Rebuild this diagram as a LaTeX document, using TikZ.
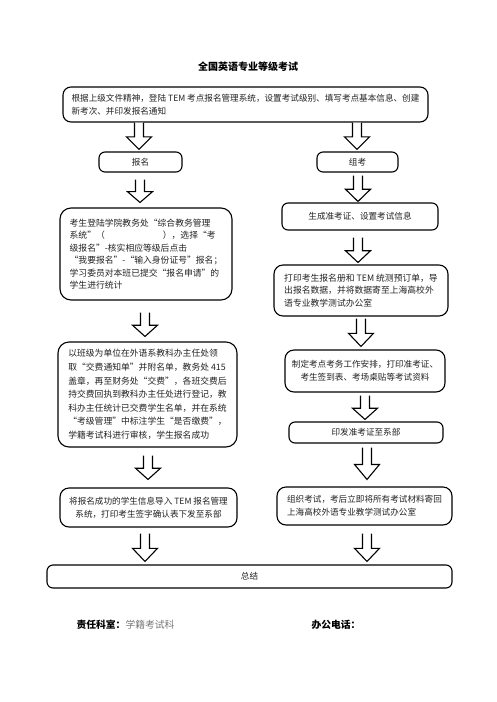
\documentclass[tikz,border=0pt]{standalone}
\usepackage{fontspec}
\setmainfont{Noto Sans CJK SC}
\usetikzlibrary{calc}
\definecolor{txt}{HTML}{222222}
\definecolor{graytxt}{HTML}{777777}
\tikzset{
  box/.style={draw=black, line width=1.1pt, rounded corners=6pt, inner sep=2pt,
    text=txt, font=\fontsize{8.6}{13}\selectfont, align=left},
  bigbox/.style={box, rounded corners=11pt},
  barrow/.style={draw=black, fill=white, line width=1.1pt, line join=miter},
}
\newcommand{\flowarrow}[5]{% x, from, to, top gap, bottom gap
  \coordinate (fxr) at (#1,0);
  \path (#2.south) ++(0,#4) coordinate (fa1);
  \path (#3.north) ++(0,-#5) coordinate (fa2);
  \coordinate (fA) at (fa1 -| fxr);
  \coordinate (fB) at (fa2 -| fxr);
  \coordinate (fH) at ($(fA)!0.53!(fB)$);
  \draw[barrow] ($(fA)+(-4.5,0)$) -- ($(fH)+(-4.5,0)$) -- ($(fH)+(-12.5,0)$)
    -- (fB) -- ($(fH)+(12.5,0)$) -- ($(fH)+(4.5,0)$) -- ($(fA)+(4.5,0)$);}
\begin{document}
\begin{tikzpicture}[x=1pt,y=-1pt]
\useasboundingbox[fill=white] (0,0) rectangle (496,702);

\node[font=\bfseries\fontsize{10}{12}\selectfont] (title) at (248,67) {全国英语专业等级考试};

\node[box, rounded corners=8pt, minimum width=365pt, minimum height=35pt] (top) at (245.5,104.5)
  {根据上级文件精神，登陆 TEM 考点报名管理系统，设置考试级别、填写考点基本信息、创建\\新考次、并印发报名通知};

\node[box, minimum width=83pt, minimum height=20pt, align=center] (bm) at (140.5,162) {报名};
\node[box, minimum width=81pt, minimum height=20pt, align=center] (zk) at (357.5,162) {组考};

\node[bigbox, minimum width=172pt, minimum height=92pt, font=\fontsize{8.8}{12.5}\selectfont] (l1) at (146,254)
  {考生登陆学院教务处“综合教务管理\\系统”（\hspace{58pt}），选择“考\\级报名”-核实相应等级后点击\\“我要报名”-“输入身份证号”报名；\\学习委员对本班已提交“报名申请”的\\学生进行统计};

\node[box, minimum width=156pt, minimum height=27pt, align=center] (r1) at (360,216.5) {生成准考证、设置考试信息};

\node[bigbox, rounded corners=9pt, minimum width=174pt, minimum height=51pt, font=\fontsize{8.8}{12.5}\selectfont] (r2) at (361,290.5)
  {打印考生报名册和 TEM 统测预订单，导\\出报名数据，并将数据寄至上海高校外\\语专业教学测试办公室};

\node[bigbox, minimum width=179pt, minimum height=105pt, font=\fontsize{8.8}{13.6}\selectfont] (l2) at (147.5,394.5)
  {以班级为单位在外语系教科办主任处领\\取“交费通知单”并附名单，教务处 415\\盖章，再至财务处“交费”，各班交费后\\持交费回执到教科办主任处进行登记，教\\科办主任统计已交费学生名单，并在系统\\“考级管理”中标注学生“是否缴费”，\\学籍考试科进行审核，学生报名成功};

\node[bigbox, rounded corners=9pt, minimum width=160pt, minimum height=42pt, align=center] (r3) at (365,371)
  {制定考点考务工作安排，打印准考证、\\考生签到表、考场桌贴等考试资料};

\node[box, minimum width=154pt, minimum height=21pt, align=center] (r4) at (366,432.5) {印发准考证至系部};

\node[bigbox, rounded corners=9pt, minimum width=177pt, minimum height=39pt, align=center] (l3) at (148.5,507.5)
  {将报名成功的学生信息导入 TEM 报名管理\\系统，打印考生签字确认表下发至系部};

\node[bigbox, rounded corners=9pt, minimum width=175pt, minimum height=38pt] (r5) at (364.5,506)
  {组织考试，考后立即将所有考试材料寄回\\上海高校外语专业教学测试办公室};

\node[box, minimum width=405pt, minimum height=23pt, align=center] (sum) at (249.5,576.5) {总结};

\flowarrow{139}{top}{bm}{0}{2}
\flowarrow{357}{top}{zk}{0}{2}
\flowarrow{140}{bm}{l1}{7}{5}
\flowarrow{358}{zk}{r1}{3}{1}
\flowarrow{145}{l1}{l2}{12}{5}
\flowarrow{358}{r1}{r2}{7}{2}
\flowarrow{361}{r2}{r3}{2}{3}
\flowarrow{365}{r3}{r4}{3}{2}
\flowarrow{148}{l2}{l3}{8}{8}
\flowarrow{367}{r4}{r5}{4}{7}
\flowarrow{145}{l3}{sum}{6}{3}
\flowarrow{367}{r5}{sum}{8}{3}

\node[anchor=west, font=\fontsize{9.8}{12}\selectfont] (f1) at (73,625) {\textbf{责任科室：}\textcolor{graytxt}{学籍考试科}};
\node[anchor=west, font=\fontsize{9.8}{12}\selectfont] (f2) at (308,625) {\textbf{办公电话：}};
\end{tikzpicture}
\end{document}
